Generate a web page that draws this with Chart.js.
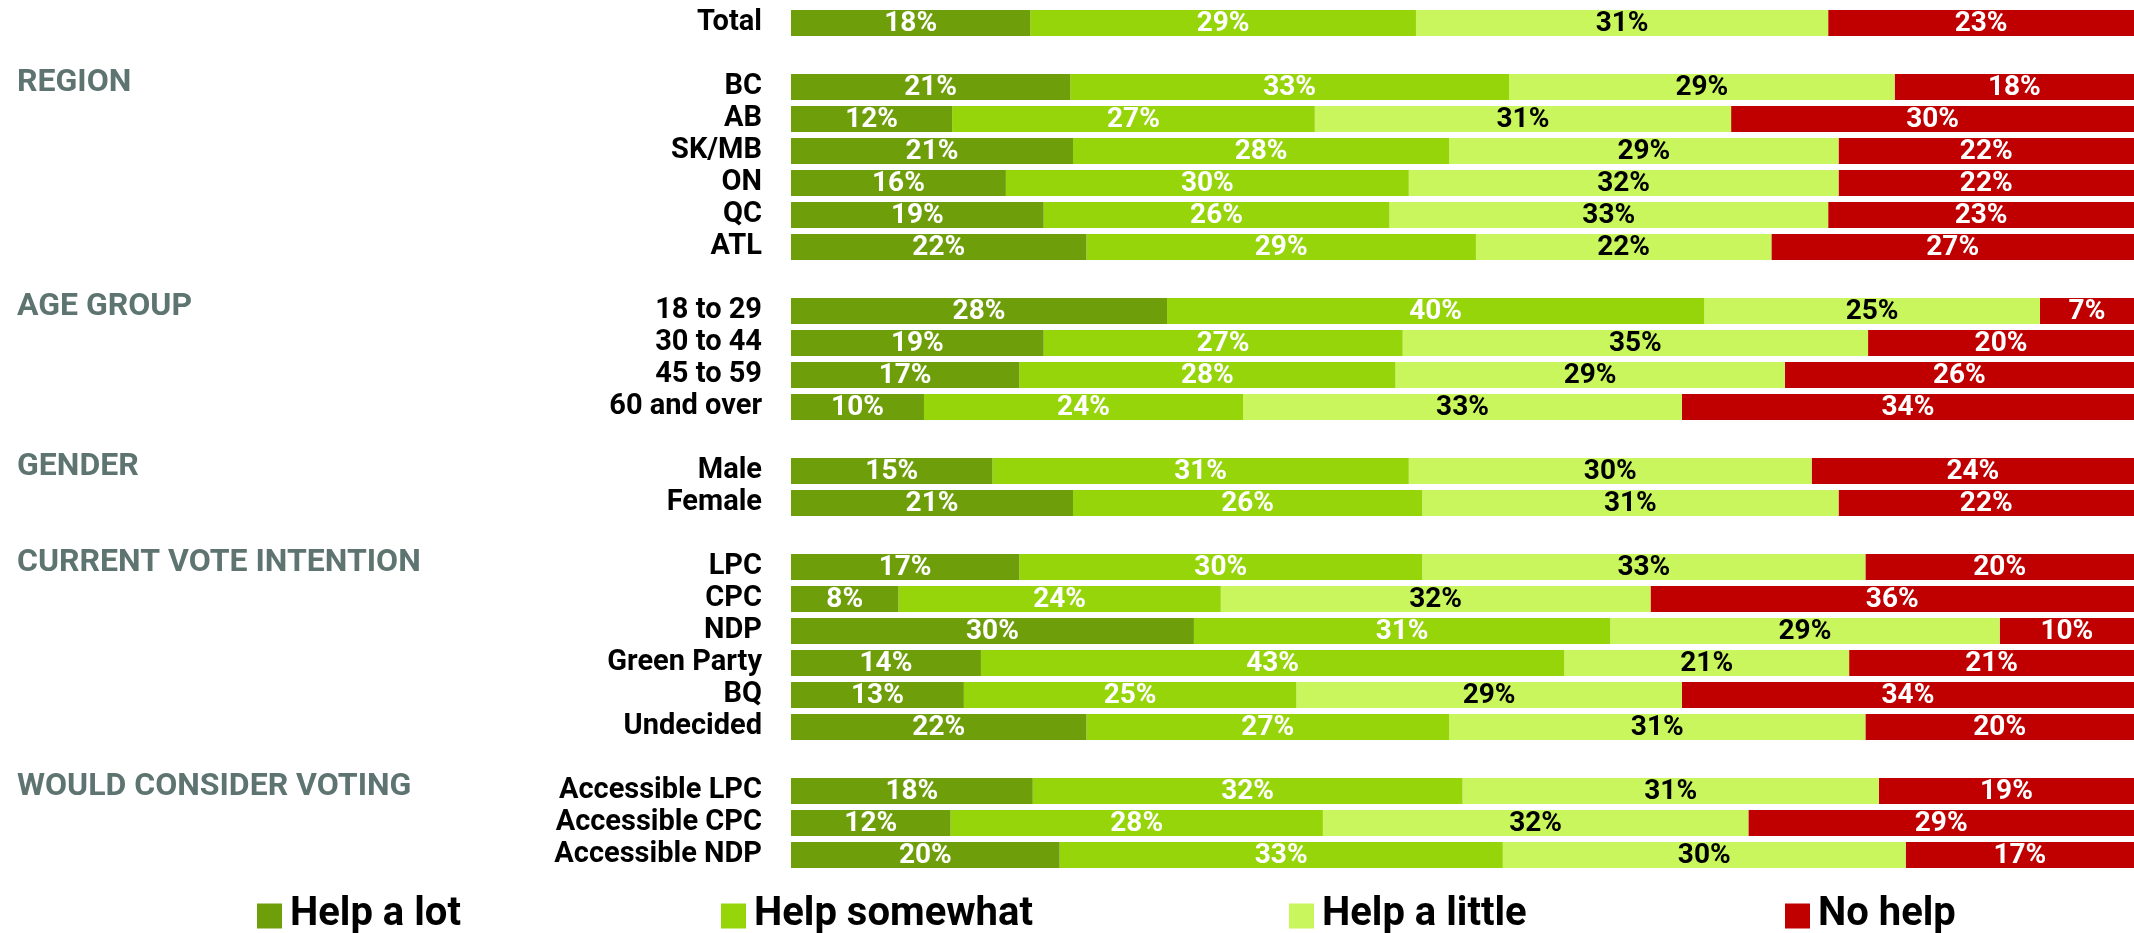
<!DOCTYPE html>
<html lang="en">
<head>
<meta charset="utf-8">
<title>Help a lot / Help somewhat / Help a little / No help</title>
<script src="https://cdn.jsdelivr.net/npm/chart.js"></script>
<style>
  html,body{margin:0;padding:0;background:#fff}
  #chart{display:block}
</style>
</head>
<body>
<canvas id="chart" width="2134" height="933"></canvas>
<script>
// rows, '' = spacer between groups
const categories = ['Total', '', 'BC', 'AB', 'SK/MB', 'ON', 'QC', 'ATL', '',
  '18 to 29', '30 to 44', '45 to 59', '60 and over', '', 'Male', 'Female', '',
  'LPC', 'CPC', 'NDP', 'Green Party', 'BQ', 'Undecided', '',
  'Accessible LPC', 'Accessible CPC', 'Accessible NDP'];

const helpALot     = [18, null, 21, 12, 21, 16, 19, 22, null, 28, 19, 17, 10, null, 15, 21, null, 17, 8, 30, 14, 13, 22, null, 18, 12, 20];
const helpSomewhat = [29, null, 33, 27, 28, 30, 26, 29, null, 40, 27, 28, 24, null, 31, 26, null, 30, 24, 31, 43, 25, 27, null, 32, 28, 33];
const helpALittle  = [31, null, 29, 31, 29, 32, 33, 22, null, 25, 35, 29, 33, null, 30, 31, null, 33, 32, 29, 21, 29, 31, null, 31, 32, 30];
const noHelp       = [23, null, 18, 30, 22, 22, 23, 27, null, 7, 20, 26, 34, null, 24, 22, null, 20, 36, 10, 21, 34, 20, null, 19, 29, 17];

const seriesNames = ['Help a lot', 'Help somewhat', 'Help a little', 'No help'];
const seriesColors = ['#6e9f0a', '#96d50a', '#c8f65c', '#c00000'];
const labelColors = ['#fff', '#fff', '#000', '#fff'];

const groupNames = ['REGION', 'AGE GROUP', 'GENDER', 'CURRENT VOTE INTENTION', 'WOULD CONSIDER VOTING'];
const groupFirstRow = [2, 9, 14, 17, 24];

const FONT = 'Roboto, "Open Sans", sans-serif';
const series = [helpALot, helpSomewhat, helpALittle, noHelp];

// bars fill the full width: each row scaled to its own total
const rowTotals = categories.map((_, i) => series.reduce((s, arr) => s + (arr[i] || 0), 0));
const scaled = arr => arr.map((v, i) => v == null ? null : v / rowTotals[i] * 100);

const valueLabels = {
  id: 'valueLabels',
  afterDatasetsDraw(chart) {
    const ctx = chart.ctx;
    ctx.save();
    ctx.font = 'bold 28px ' + FONT;
    ctx.textAlign = 'center';
    ctx.textBaseline = 'middle';
    chart.data.datasets.forEach((ds, d) => {
      const meta = chart.getDatasetMeta(d);
      ctx.fillStyle = labelColors[d];
      meta.data.forEach((bar, i) => {
        const raw = series[d][i];
        if (raw == null) return;
        const p = bar.getCenterPoint();
        ctx.fillText(raw + '%', p.x, p.y + 1);
      });
    });
    ctx.restore();
  }
};

const groupHeaders = {
  id: 'groupHeaders',
  afterDraw(chart) {
    const ctx = chart.ctx;
    const y = chart.scales.y;
    ctx.save();
    ctx.font = 'bold 32px ' + FONT;
    ctx.fillStyle = '#5e7470';
    ctx.textAlign = 'left';
    ctx.textBaseline = 'middle';
    groupNames.forEach((name, i) => {
      ctx.fillText(name, 17, y.getPixelForValue(groupFirstRow[i]) - 4);
    });
    ctx.restore();
  }
};

// legend drawn by hand: the built-in padding also grows vertically
const legendX = [257, 721, 1289, 1785];
const bottomLegend = {
  id: 'bottomLegend',
  afterDraw(chart) {
    const ctx = chart.ctx;
    ctx.save();
    ctx.font = 'bold 40px ' + FONT;
    ctx.textBaseline = 'middle';
    ctx.textAlign = 'left';
    const cy = 914, box = 25;
    seriesNames.forEach((name, i) => {
      ctx.fillStyle = seriesColors[i];
      ctx.fillRect(legendX[i], cy - box / 2 + 2, box, box);
      ctx.fillStyle = '#000';
      ctx.fillText(name, legendX[i] + box + 8, cy + 1);
    });
    ctx.restore();
  }
};

new Chart(document.getElementById('chart'), {
  type: 'bar',
  data: {
    labels: categories,
    datasets: series.map((arr, d) => ({
      label: seriesNames[d],
      data: scaled(arr),
      backgroundColor: seriesColors[d],
      borderWidth: 0,
      barPercentage: 0.81,
      categoryPercentage: 1
    }))
  },
  options: {
    indexAxis: 'y',
    responsive: false,
    animation: false,
    layout: { padding: { top: 7, bottom: 62, left: 0, right: 0 } },
    plugins: {
      legend: { display: false },
      tooltip: { enabled: false }
    },
    scales: {
      x: { stacked: true, min: 0, max: 100, display: false },
      y: {
        stacked: true,
        grid: { display: false, drawTicks: false },
        border: { display: false },
        ticks: {
          color: '#000',
          padding: 29,
          autoSkip: false,
          font: { family: FONT, size: 29, weight: 'bold' }
        },
        afterFit(scale) {
          scale.width = 791;
          scale.paddingTop = 0;
          scale.paddingBottom = 0;
        }
      }
    }
  },
  plugins: [valueLabels, groupHeaders, bottomLegend]
});
</script>
</body>
</html>
